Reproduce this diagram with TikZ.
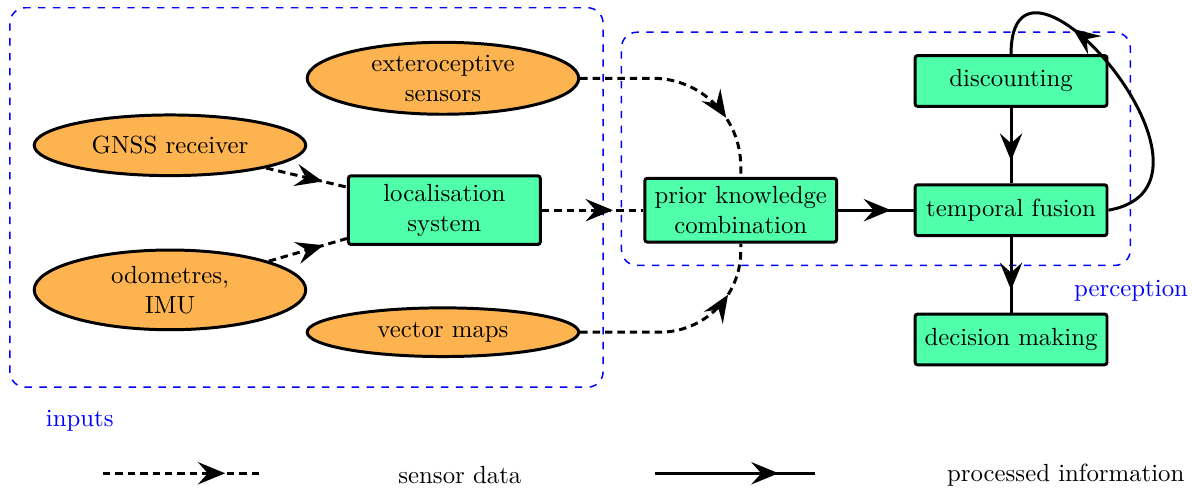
\documentclass[tikz,border=0pt]{standalone}
\usepackage{xcolor}
\usepackage{tikz}
\usetikzlibrary{shapes.geometric, arrows.meta, positioning, fit, decorations.markings}

\definecolor{sensorfill}{RGB}{253,180,80}
\definecolor{procfill}{RGB}{80,255,170}

\begin{document}
\begin{tikzpicture}[
  sensor/.style={draw, ellipse, very thick, fill=sensorfill, inner sep=0pt, minimum width=3.85cm, align=center},
  proc/.style={draw, rounded corners=1pt, very thick, fill=procfill, minimum width=2.72cm, minimum height=0.72cm, align=center},
  group/.style={draw=blue, dashed, semithick, rounded corners=0.22cm},
  grouplabel/.style={text=blue},
  midarr/.style={postaction={decorate}, decoration={markings, mark=at position #1 with {\arrow{Stealth[length=11pt, width=9pt, inset=4pt]}}}},
  data/.style={very thick, dash pattern=on 3pt off 2pt, midarr=#1},
  data/.default=0.7,
  info/.style={very thick, midarr=#1},
  info/.default=0.7,
  node distance=1.07cm
]
  \useasboundingbox (0,0) rectangle (16.9,-6.934);

  % Processing chain
  \node[proc] (loc) at (6.30,-2.98) {localisation\\system};
  \node[proc, right=1.44cm of loc] (prior) {prior knowledge\\combination};
  \node[proc, right=of prior] (tf) {temporal fusion};
  \node[proc, above=of tf] (disc) {discounting};
  \node[proc, below=of tf] (dec) {decision making};

  % Sensors and maps
  \node[sensor, minimum height=1.02cm] (ext) at (6.28,-1.11) {exteroceptive\\sensors};
  \node[sensor, minimum height=0.86cm] (gnss) at (2.41,-2.06) {GNSS receiver};
  \node[sensor, minimum height=1.13cm] (odo) at (2.41,-4.11) {odometres,\\IMU};
  \node[sensor, minimum height=0.69cm] (vmap) at (6.28,-4.71) {vector maps};

  % Groups
  \draw[group] (0.14,-0.11) rectangle (8.55,-5.49);
  \node[grouplabel] (inlab) at (1.13,-5.96) {inputs};
  \node[group, fit=(prior)(disc)(tf), inner sep=0.31cm] (perc) {};
  \node[grouplabel, below=0.08cm of perc.south east] (perclab) {perception};

  % Arrows
  \draw[data] (gnss) -- (loc);
  \draw[data] (odo) -- (loc);
  \draw[data] (loc) -- (prior);
  \draw[data=0.72, rounded corners=1.25cm] (ext.east) -| (prior.north);
  \draw[data=0.75, rounded corners=1.15cm] (vmap.east) -| (prior.south);
  \draw[info] (prior) -- (tf);
  \draw[info] (disc) -- (tf);
  \draw[info] (tf) -- (dec);
  \draw[info=0.71] (tf.east) to[out=10, in=90, looseness=2] (disc.north);

  % Legend
  \coordinate (dA) at (1.46,-6.71);
  \coordinate (dB) at (3.71,-6.71);
  \coordinate (pA) at (9.29,-6.71);
  \coordinate (pB) at (11.56,-6.71);
  \draw[data=0.77] (dA) -- (dB);
  \node (dlab) at (6.52,-6.73) {sensor data};
  \draw[info=0.77] (pA) -- (pB);
  \node (plab) at (15.11,-6.73) {processed information};

\end{tikzpicture}
\end{document}
